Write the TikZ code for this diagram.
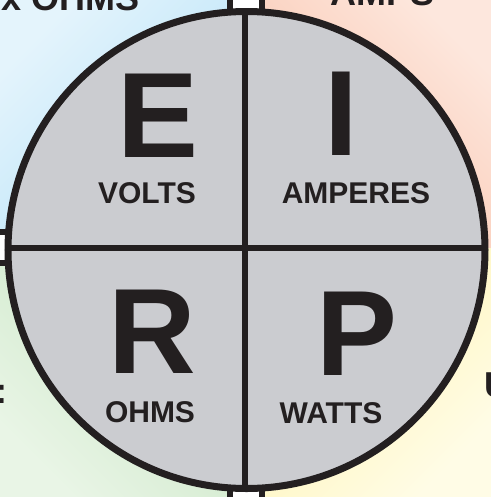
\documentclass[tikz,border=0pt]{standalone}
\usepackage{fontspec}
\setmainfont{Liberation Sans}
\definecolor{ink}{HTML}{231F20}
\definecolor{disc}{HTML}{CBCCD0}
\definecolor{bluelt}{HTML}{E4F4FC}
\definecolor{bluedk}{HTML}{B1E0F7}
\definecolor{salmonlt}{HTML}{FDE7DD}
\definecolor{salmondk}{HTML}{F9BEA5}
\definecolor{greenlt}{HTML}{E9F5E6}
\definecolor{greendk}{HTML}{C4E4BF}
\definecolor{yellowlt}{HTML}{FFFCE6}
\definecolor{yellowdk}{HTML}{FFF3AA}
\newcommand{\bgpatch}[7]{\shade[top color=#5,bottom color=#6,shading angle=#7] (#1,#2) rectangle (#3,#4);}
\tikzset{
  bigletter/.style={font=\fontsize{91}{91}\selectfont\bfseries,text=ink,anchor=base,inner sep=0pt},
  unitlabel/.style={font=\fontsize{22.5}{22.5}\selectfont\bfseries,text=ink,anchor=base,inner sep=0pt},
  edgetext/.style={font=\fontsize{27}{27}\selectfont\bfseries,text=ink,inner sep=0pt},
  wheelrim/.style={circle,draw=ink,fill=disc,line width=5.25pt,minimum size=357.75pt,inner sep=0pt,outer sep=0pt},
  divider/.style={draw=ink,line width=4.5pt},
  notch/.style={draw=ink,fill=white,line width=4.5pt}
}

\begin{document}
\begin{tikzpicture}[x=0.75pt,y=-0.75pt]
  \clip (0,0) rectangle (491,497);
  % quadrant backgrounds
  \bgpatch{0}{0}{244.5}{248}{bluelt}{bluedk}{45}
  \bgpatch{244.5}{0}{491}{248}{salmonlt}{salmondk}{-45}
  \bgpatch{0}{248}{244.5}{497}{greendk}{greenlt}{-45}
  \bgpatch{244.5}{248}{491}{497}{yellowdk}{yellowlt}{45}
  % cut-off text of the outer ring
  \node[edgetext,anchor=base east] (ringtl) at (140,10) {x OHMS};
  \node[edgetext,anchor=base west] (ringtr) at (330,5) {AMPS};
  \node[edgetext,anchor=base east] (ringl) at (8,403) {:};
  \node[edgetext,anchor=base west] (ringr) at (484,397) {U};
  \draw[notch] (230,-10) rectangle (262,30);
  \draw[notch] (-10,232) rectangle (10,263);
  \draw[notch] (230,470) rectangle (262,510);
  % the wheel
  \node[wheelrim] (wheel) at (246.5,250) {};
  \coordinate (divx) at (244.5,248);
  \draw[divider] (divx |- wheel.north) -- (divx |- wheel.south);
  \draw[divider] (wheel.west |- divx) -- (wheel.east |- divx);
  \foreach \x/\y/\t/\lx/\ly/\u in {158/157/E/147/203/VOLTS,341/155/I/356/203/AMPERES,152/373/R/150/422/OHMS,357/375/P/331/423/WATTS} {
    \node[bigletter] (let\t) at (\x,\y) {\t};
    \node[unitlabel] (unit\t) at (\lx,\ly) {\u};
  }
\end{tikzpicture}
\end{document}
